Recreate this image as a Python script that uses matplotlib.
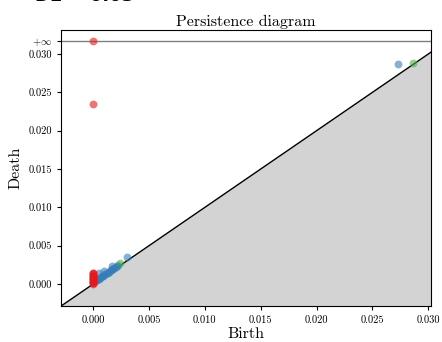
import numpy as np
import matplotlib
matplotlib.use("Agg")
import matplotlib.pyplot as plt

plt.rcParams["font.family"] = ["cmr10", "DejaVu Serif"]
plt.rcParams["mathtext.fontset"] = "cm"
plt.rcParams["axes.unicode_minus"] = False
plt.rcParams["axes.formatter.use_mathtext"] = True

# Persistence pairs per homology dimension (birth, death)
h0_birth = [0.0] * 17
h0_death = [0.0000, 0.0001, 0.0002, 0.0003, 0.0004, 0.0005, 0.0006, 0.0007,
            0.0008, 0.0009, 0.0010, 0.0011, 0.0012, 0.0013, 0.0014, 0.0015, 0.0235]
h0_inf_birth = [0.0]

h1_birth = [0.0001, 0.0002, 0.0003, 0.0004, 0.0005, 0.0006, 0.0007, 0.0008,
            0.0009, 0.0010, 0.0011, 0.0012, 0.0013, 0.0014, 0.0015, 0.0016,
            0.0017, 0.0018, 0.0019, 0.0020, 0.0021, 0.0005, 0.0010, 0.0017,
            0.0030, 0.0273]
h1_death = [0.0002, 0.0004, 0.0005, 0.0006, 0.0007, 0.0008, 0.0009, 0.0010,
            0.0011, 0.0012, 0.0013, 0.0014, 0.0015, 0.0016, 0.0017, 0.0018,
            0.0019, 0.0020, 0.0021, 0.0022, 0.0023, 0.0015, 0.0017, 0.0024,
            0.0035, 0.0287]

h2_birth = [0.0022, 0.0024, 0.0286]
h2_death = [0.0025, 0.0027, 0.0288]

colors = ["#e41a1c", "#377eb8", "#4daf4a"]

max_death = max(max(h0_death), max(h1_death), max(h2_death),
                max(h1_birth), max(h2_birth))
min_birth = min(min(h0_birth), min(h1_birth), min(h2_birth))
delta = (max_death - min_birth) * 0.1
infinity = max_death + delta
axis_start = min_birth - delta
axis_end = max_death + delta / 2

fig = plt.figure(figsize=(4.42, 3.42), dpi=100)
ax = fig.add_axes([0.138, 0.105, 0.837, 0.807])

x = np.linspace(axis_start, axis_end, 1000)
ax.fill_between(x, x, axis_start, color="lightgrey", zorder=0)
ax.plot([axis_start, axis_end], [axis_start, axis_end], color="k", linewidth=1.0, zorder=1)
ax.plot([axis_start, axis_end], [infinity, infinity], color="k", linewidth=1.0, alpha=0.5, zorder=1)

ms = 32
ax.scatter(h2_birth, h2_death, s=ms, color=colors[2], alpha=0.6, linewidths=0, zorder=2)
ax.scatter(h1_birth, h1_death, s=ms, color=colors[1], alpha=0.6, linewidths=0, zorder=2)
ax.scatter(h0_birth, h0_death, s=ms, color=colors[0], alpha=0.6, linewidths=0, zorder=3)
ax.scatter(h0_inf_birth, [infinity] * len(h0_inf_birth), s=ms, color=colors[0],
           alpha=0.6, linewidths=0, zorder=3)

ax.set_xlim(axis_start, axis_end)
ax.set_ylim(axis_start, infinity + delta / 2)

xt = [0.000, 0.005, 0.010, 0.015, 0.020, 0.025, 0.030]
ax.set_xticks(xt)
ax.set_xticklabels([f"{v:.3f}" for v in xt])
yt = [0.000, 0.005, 0.010, 0.015, 0.020, 0.025, 0.030]
ax.set_yticks(yt + [infinity])
ax.set_yticklabels([f"{v:.3f}" for v in yt] + [r"$+\infty$"])
ax.tick_params(labelsize=7.5, length=3)

ax.set_title("Persistence diagram", fontsize=11.5, pad=3)
ax.set_xlabel("Birth", fontsize=11.5, labelpad=2)
ax.set_ylabel("Death", fontsize=11.5, labelpad=4)

fig.text(35 / 442, 1 - 1 / 342, "DE = 0.03", fontsize=13, fontweight="bold",
         family="DejaVu Sans", ha="left", va="baseline")

fig.savefig("out.png", dpi=100)
